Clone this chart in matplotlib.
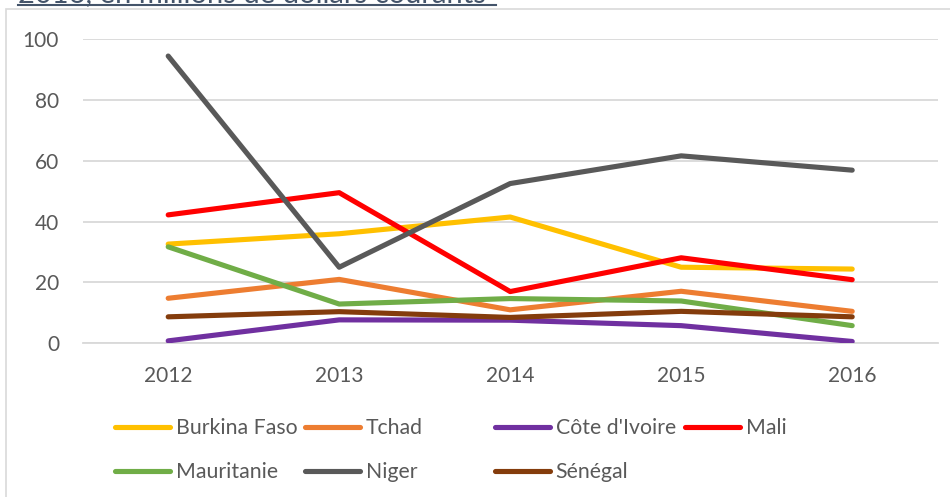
#!/usr/bin/env python3
"""
Line chart: amounts per country 2012-2016, in millions of current dollars.
"""

import matplotlib
matplotlib.use('Agg')
import matplotlib.pyplot as plt
from matplotlib.lines import Line2D
from matplotlib.patches import Rectangle

years = ['2012', '2013', '2014', '2015', '2016']

burkina = [32.6, 36.0, 41.5, 25.0, 24.4]
tchad = [14.8, 21.0, 11.0, 17.1, 10.5]
cote_ivoire = [0.8, 7.7, 7.6, 5.8, 0.6]
mali = [42.2, 49.5, 17.0, 28.1, 20.9]
mauritanie = [31.7, 12.9, 14.7, 13.9, 5.8]
niger = [94.4, 25.0, 52.5, 61.6, 56.9]
senegal = [8.7, 10.4, 8.5, 10.5, 8.7]

series = [
    ('Burkina Faso', burkina, '#FFC000'),
    ('Tchad', tchad, '#ED7D31'),
    ("Côte d'Ivoire", cote_ivoire, '#7030A0'),
    ('Mali', mali, '#FF0000'),
    ('Mauritanie', mauritanie, '#70AD47'),
    ('Niger', niger, '#595959'),
    ('Sénégal', senegal, '#843C0C'),
]

plt.rcParams['font.family'] = ['Lato', 'DejaVu Sans']
text_color = '#595959'
W, H = 950, 497

fig = plt.figure(figsize=(9.5, 4.97), dpi=100)

# chart border (partly outside the picture)
fig.patches.append(Rectangle((6 / W, -0.2), 2.0, (H - 9.5) / H + 0.2,
                             transform=fig.transFigure, fill=False,
                             edgecolor='#D9D9D9', linewidth=1.2))

# title cut at the top of the picture
fig.text(18 / W, 1 - 2.5 / H, '2016, en millions de dollars courants',
         fontsize=21, color='#44546A', ha='left', va='baseline')
fig.add_artist(Line2D([18 / W, 496 / W], [1 - 5 / H, 1 - 5 / H],
                      transform=fig.transFigure, color='#44546A', linewidth=1.5))

ax = fig.add_axes([82.7 / W, (H - 343.3) / H, 855 / W, 304.3 / H])
x = list(range(len(years)))
handles = []
for name, values, color in series:
    line, = ax.plot(x, values, color=color, linewidth=3.7, label=name,
                    solid_capstyle='round', solid_joinstyle='round', zorder=3)
    handles.append(line)

ax.set_xlim(-0.5, len(years) - 0.5)
ax.set_ylim(0, 100)
ax.set_yticks([0, 20, 40, 60, 80, 100])
ax.set_xticks(x)
ax.set_xticklabels(years)
ax.yaxis.grid(True, color='#D9D9D9', linewidth=1.3)
ax.set_axisbelow(True)
for side in ['top', 'right', 'left']:
    ax.spines[side].set_visible(False)
ax.spines['bottom'].set_color('#D9D9D9')
ax.spines['bottom'].set_linewidth(1.3)
ax.tick_params(axis='y', length=0, pad=17, labelsize=15, labelcolor=text_color)
ax.tick_params(axis='x', length=0, pad=16, labelsize=15, labelcolor=text_color)

# legend entries placed like the Excel grid (4 per row)
col_x = [115, 305, 495, 685]
row_y = [428, 472]
for i, h in enumerate(handles):
    lx = col_x[i % 4] / W
    ly = 1 - row_y[i // 4] / H
    leg = fig.legend(handles=[h], loc='center left', bbox_to_anchor=(lx, ly),
                     frameon=False, fontsize=15.3, borderpad=0, borderaxespad=0,
                     handlelength=2.6, handletextpad=0.25)
    for t in leg.get_texts():
        t.set_color(text_color)

plt.savefig('out.png', dpi=100)
